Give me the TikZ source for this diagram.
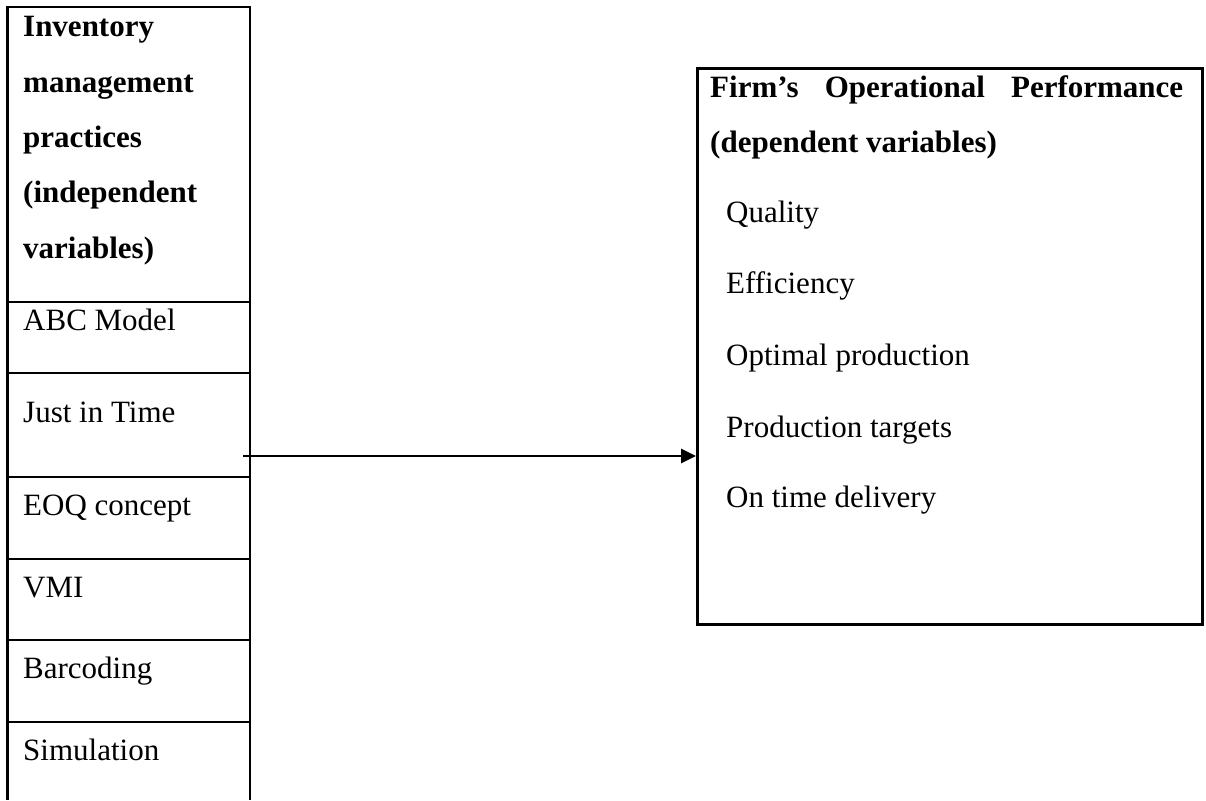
\documentclass[tikz,border=0pt]{standalone}
\usepackage{fontspec}
\setmainfont{Liberation Serif}
\usetikzlibrary{arrows.meta}
\tikzset{
  txt/.style={anchor=base west, inner sep=0pt, font=\fontsize{31pt}{37pt}\selectfont},
  btxt/.style={txt, font=\fontsize{31pt}{37pt}\selectfont\bfseries},
  frame/.style={line width=2.7pt, black},
  conn/.style={line width=2.6pt, -{Triangle[length=15pt,width=14pt]}}
}
\begin{document}
\begin{tikzpicture}[x=1pt,y=-1pt]
\useasboundingbox (0,0) rectangle (1206,800);
% left column frame (open at the bottom)
\draw[frame] (7.5,800) -- (7.5,7) -- (250,7) -- (250,800);
\foreach \yy in {302,373,477,559,640,722}{
  \draw[frame] (7.5,\yy) -- (250,\yy);
}
% left header
\node[btxt] (h1) at (23,37) {Inventory};
\node[btxt] (h2) at (23,92) {management};
\node[btxt] (h3) at (23,147) {practices};
\node[btxt] (h4) at (23,202) {(independent};
\node[btxt] (h5) at (23,258) {variables)};
% left items
\node[txt] (abc) at (23,330) {ABC Model};
\node[txt] (jit) at (23,422) {Just in Time};
\node[txt] (eoq) at (23,515) {EOQ concept};
\node[txt] (vmi) at (23,597) {VMI};
\node[txt] (bar) at (23,678) {Barcoding};
\node[txt] (sim) at (23,760) {Simulation};
% right box
\node[draw, frame, rectangle, minimum width=505pt, minimum height=556pt, inner sep=0pt, anchor=north west] (rbox) at (696,67) {};
\node[btxt] (r1) at (710,97) {\makebox[473pt][s]{Firm’s Operational Performance}};
\node[btxt] (r2) at (710,152) {(dependent variables)};
\node[txt] (q) at (726,222) {Quality};
\node[txt] (ef) at (726,293) {Efficiency};
\node[txt] (op) at (726,365) {Optimal production};
\node[txt] (pt) at (726,437) {Production targets};
\node[txt] (ot) at (726,507) {On time delivery};
% connector
\coordinate (start) at (243,456);
\draw[conn] (start) -- (rbox.west |- start);
\end{tikzpicture}
\end{document}
